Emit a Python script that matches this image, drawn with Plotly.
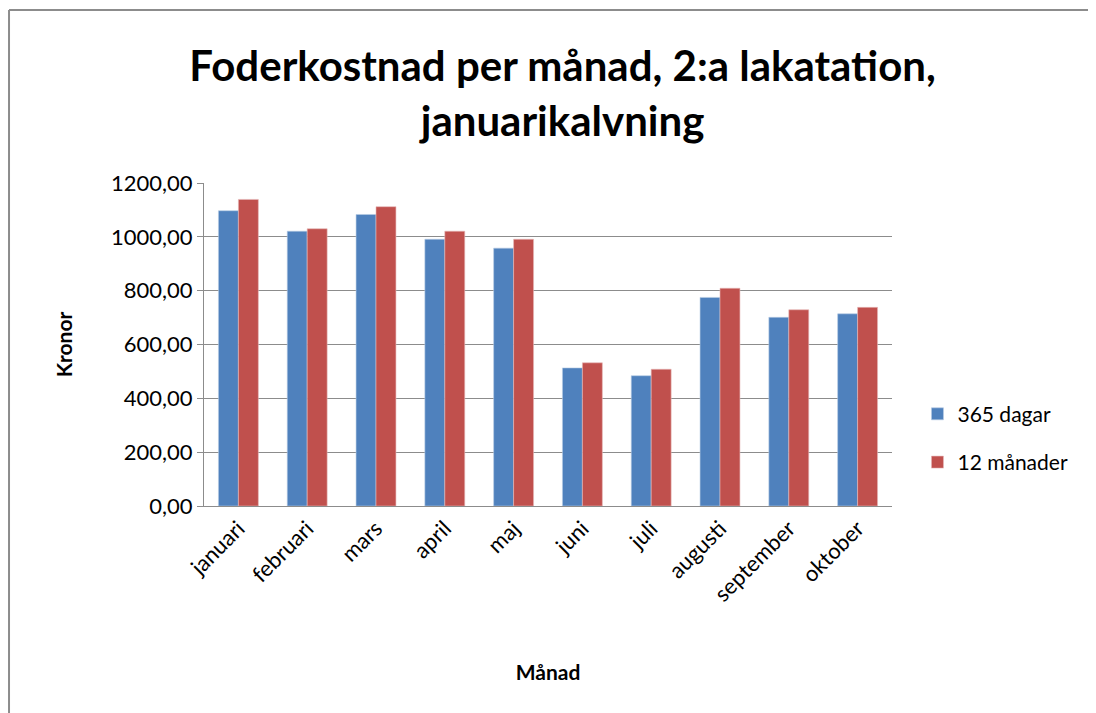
import plotly.graph_objects as go

months = ["januari", "februari", "mars", "april", "maj", "juni", "juli", "augusti", "september", "oktober"]
dagar_365 = [1097, 1021, 1083, 991, 958, 513, 484, 775, 701, 714]
manader_12 = [1139, 1030, 1112, 1021, 991, 532, 508, 809, 729, 738]
y_ticks = [0, 200, 400, 600, 800, 1000, 1200]

BLUE = "#4F81BD"
RED = "#C0504D"
GRID = "#8C8C8C"
FONT = "Lato, Open Sans, sans-serif"

fig = go.Figure()
fig.add_trace(go.Bar(x=months, y=dagar_365, name="365 dagar", marker=dict(color=BLUE, line=dict(color="#B8CCE4", width=0.6)), legendgroup="a"))
fig.add_trace(go.Bar(x=months, y=manader_12, name="12 månader", marker=dict(color=RED, line=dict(color="#E6B9B8", width=0.6)), legendgroup="b"))

fig.update_layout(
    width=1096,
    height=713,
    paper_bgcolor="white",
    plot_bgcolor="white",
    font=dict(family=FONT, color="#000000", size=22),
    separators=",.",
    barmode="group",
    bargap=0.42,
    bargroupgap=0,
    margin=dict(l=196, r=212, t=175, b=215),
    title=dict(
        text="<b>Foderkostnad per månad, 2:a lakatation,<br>januarikalvning</b>",
        x=0.506,
        xanchor="center",
        y=0.897,
        yanchor="top",
        font=dict(size=42, family=FONT),
    ),
    legend=dict(
        x=1.037,
        xanchor="left",
        y=0.21,
        yanchor="middle",
        font=dict(size=21),
        tracegroupgap=18,
        traceorder="grouped",
    ),
    shapes=[
        dict(type="line", xref="paper", yref="paper", x0=-0.2834, x1=-0.2834, y0=1.5356, y1=-0.7, line=dict(color="#8C8C8C", width=2)),
        dict(type="line", xref="paper", yref="paper", x0=-0.2834, x1=1.35, y0=1.5356, y1=1.5356, line=dict(color="#8C8C8C", width=2)),
    ],
)
fig.update_xaxes(
    tickangle=-45,
    showline=True,
    linecolor=GRID,
    ticks="",
    title=dict(text="<b>Månad</b>", font=dict(size=21), standoff=59),
)
fig.update_yaxes(
    range=[0, 1200],
    tickvals=y_ticks,
    tickformat=".2f",
    showgrid=True,
    gridcolor=GRID,
    showline=True,
    linecolor=GRID,
    ticks="outside",
    tickcolor=GRID,
    ticklen=6,
    title=dict(text="<b>Kronor</b>", font=dict(size=21), standoff=32),
)

fig.write_html("out.html")
